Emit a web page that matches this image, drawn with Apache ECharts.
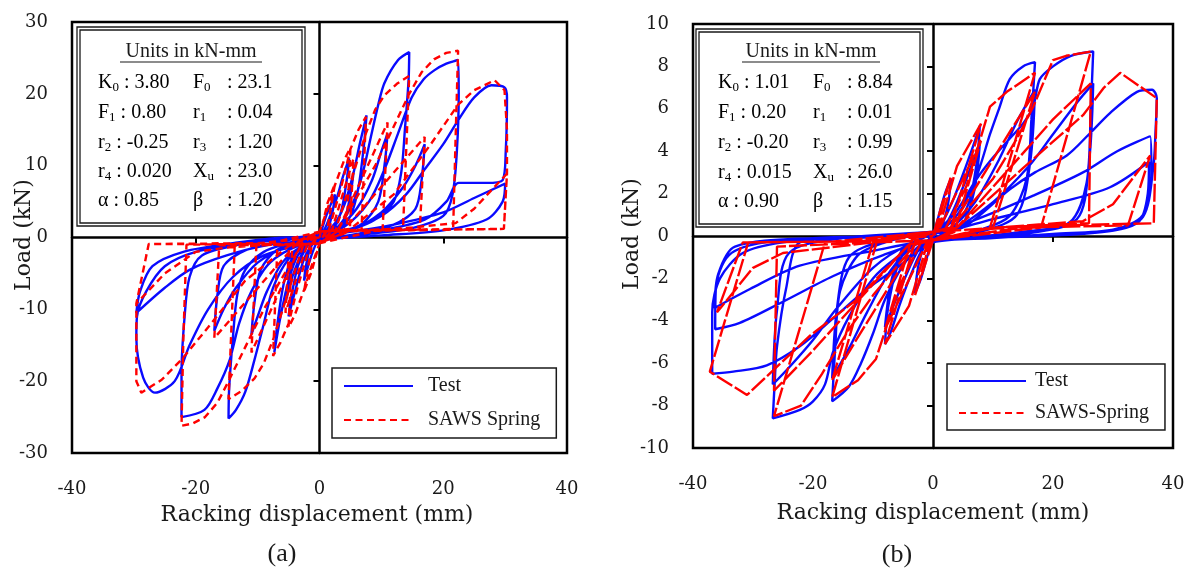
<!DOCTYPE html>
<html><head><meta charset="utf-8">
<script src="https://cdn.jsdelivr.net/npm/echarts@6/dist/echarts.min.js"></script>
<style>html,body{margin:0;padding:0;background:#fff}#c{width:1189px;height:569px}</style>
</head><body><div id="c"></div>
<script>
// ---------- axis ranges / ticks ----------
const xRange = { min: -40, max: 40, interval: 20 };
const yRangeA = { min: -30, max: 30, interval: 10 };
const yRangeB = { min: -10, max: 10, interval: 2 };

// ---------- chart (a): Test (displacement mm, load kN) ----------
const testA = [
 [0,0],[1,2.8],[2,5],[2.5,6],[2.2,4],[1.5,1.5],[0.5,0.2],[-0.5,-0.8],[-1.5,-3],[-2.5,-6],[-2.2,-4],[-1.5,-1.5],[-0.5,-0.2],
 [0.5,0.6],[1.5,2.5],[2.8,5.5],[3.8,8.5],[4.8,11],[4.4,8],[3.6,4],[2.5,1.5],[1,0.3],[-1,-0.8],[-2.5,-3],[-3.8,-7],[-5,-11],[-4.5,-8],[-3.5,-4],[-2.2,-1.5],[-0.8,-0.3],
 [0.5,0.4],[2.5,2],[4,4.5],[5.5,9],[6.5,13],[7.6,17],[7.2,13],[6.3,7],[5,3],[3,1],[0.5,0],[-1.5,-0.8],[-3.5,-2.5],[-5,-6],[-6.3,-11],[-7.3,-16],[-6.8,-12],[-5.8,-6.5],[-4.5,-3],[-2.5,-1],[-0.3,0],
 [2,1.2],[4,4.5],[5.5,9],[5,6],[4,2.5],[2,0.6],[0,-0.3],[-2,-1.2],[-4,-4.5],[-5.5,-9],[-5,-6],[-4,-2.5],[-2,-0.6],[0,0.3],
 [3,1.5],[5.5,5],[7,9],[8.3,14],[9.5,18.5],[10.5,21.5],[12.7,24.7],[14.5,25.8],[14.4,22],[13.8,15],[13.2,9],[12,5],[9,2.5],[5,1],[1,0],[-2,-1],[-5,-3],[-7.5,-7],[-9,-12],[-10.5,-17],[-12,-21.5],[-13.5,-24],[-14.7,-25.2],[-14.6,-21],[-14,-14],[-13.3,-8],[-12,-4.5],[-9,-2],[-5,-0.8],[-1,0.2],
 [3,1.5],[6,4],[8.5,8],[10,12],[11,14.5],[10.5,10],[9.5,5],[7,2],[3,0.5],[0,-0.3],[-3,-1.3],[-6,-3.5],[-8.5,-7.5],[-10,-11],[-11,-13.5],[-10.5,-9],[-9.5,-4.5],[-7,-1.8],[-3,-0.5],[0,0.3],
 [4,1.5],[8,5],[10.6,9.7],[12.7,14.5],[14.9,19.5],[16.8,22],[18.6,23.3],[20.5,24.2],[22.4,24.7],[22.5,20],[22.2,12],[21.5,6],[20,3],[15,1.3],[8,0.5],[2,-0.2],[-3,-1],[-8,-3.5],[-11,-7.5],[-13,-12],[-14.5,-17],[-16.5,-21],[-18.6,-24],[-22.3,-25],[-22.3,-19],[-21.8,-11],[-21,-5.5],[-19,-2.5],[-13,-1],[-6,-0.3],[0,0.2],
 [5,1],[10,3.5],[13.5,7],[15.5,10],[17,13],[16.5,8],[15.5,4],[12,1.8],[6,0.5],[0,-0.3],[-5,-1.2],[-10,-3.5],[-13.5,-7],[-15.5,-10],[-17,-13],[-16.5,-8],[-15.5,-4],[-12,-1.8],[-6,-0.5],[0,0.3],
 [5,1.2],[10,3],[14,6],[17,9.5],[20,13],[22.4,16.3],[25,19.5],[27.8,21.2],[29.9,20.9],[30.3,19.5],[30.1,12],[29.6,8],[27,7.6],[22.5,7.6],[20.5,5],[17,2.5],[10,1],[3,0],[-3,-1],[-9,-2.5],[-14,-5.5],[-18,-10],[-21,-15],[-23.4,-20],[-26.6,-21.6],[-28.5,-19.5],[-29.6,-14],[-29.5,-11],[-28,-7.5],[-25,-4],[-20,-2],[-12,-0.8],[-4,0],
 [5,0.8],[12,1.8],[20,3.5],[25,5.5],[30,7.5],[29.6,5],[27,2.5],[20,1],[10,0.3],[0,-0.3],[-8,-1],[-15,-2.5],[-21,-4.5],[-25,-7],[-29.6,-10.5],[-29,-7.5],[-27,-4],[-22,-2],[-14,-0.8],[-5,0],[0,0]
];

// ---------- chart (a): SAWS Spring model ----------
const sawsA = [
 [0,0],[1.3,4.8],[2.5,7.5],[1.2,0.9],[0,-0.8],[-1.3,-4.8],[-2.5,-7.5],[-1.2,-0.9],[0,0.8],
 [1.5,4.5],[2.5,7.3],[4,10.8],[5,12.5],[4.4,1],[1,0.9],[0,-0.8],[-1.5,-4.5],[-2.5,-7.3],[-4,-10.8],[-5,-12.5],[-4.4,-1],[-1,-0.9],[0,0.8],
 [1.5,1],[3.5,7],[5,12.3],[6.3,15],[7.5,16.8],[6.8,1.1],[2,0.9],[0,-0.8],[-1.5,-1],[-3.5,-6.8],[-5,-12],[-6.3,-14.6],[-7.5,-16.5],[-6.8,-1.1],[-2,-0.9],[0,0.8],
 [2,1],[5.5,11],[4.9,1],[0,-0.8],[-2,-1],[-5.5,-10.5],[-4.9,-1],[0,0.8],
 [2.6,1],[7.5,14.5],[9,17.8],[10.5,19.8],[12.5,21.4],[14.5,22.5],[13.5,1.2],[4,1],[0,-0.8],[-2.6,-1],[-7.5,-14.2],[-9,-17.5],[-10.5,-19.6],[-12.5,-21.3],[-14.7,-22.5],[-13.7,-1.1],[-4,-0.9],[0,0.8],
 [3,1],[11,16],[10.2,1.1],[3,0.9],[0,-0.8],[-3,-1],[-11,-16],[-10.2,-1.1],[-3,-0.9],[0,0.8],
 [3,1.1],[9,10],[14.5,20],[16.5,23],[18.5,24.8],[20.5,25.7],[22.4,26],[22,14],[21.6,1.2],[12,1],[3,0.9],[0,-0.8],[-3,-1.1],[-9,-10],[-14.7,-20],[-16.5,-23],[-18.5,-25],[-20.5,-25.9],[-22.3,-26.2],[-22,-14],[-21.5,-1],[-12,-0.9],[-3,-0.9],[0,0.8],
 [4,1.1],[17,14],[16.2,1.1],[5,1],[0,-0.8],[-4,-1.1],[-17,-14],[-16.2,-1.1],[-5,-1],[0,0.8],
 [5,1.2],[12,6],[18,13],[22.4,18.5],[25,20.5],[28.3,21.9],[29.9,20.5],[30.3,15],[30.3,8.9],[29.8,1.2],[15,1],[5,0.9],[0,-0.8],[-5,-1.2],[-12,-6],[-18,-12.5],[-22.3,-17],[-25.5,-19.8],[-28.8,-21.6],[-29.6,-20],[-29.6,-9.2],[-27.6,-0.9],[-19.5,-0.9],[-8,-0.8],[0,0.8],
 [8,1],[15,1.4],[22,2],[25,4],[30.3,8.9],[29.8,1.2],[9.5,1],[0,-0.8],[-8,-1],[-15,-1.4],[-20,-2],[-25,-5],[-29.6,-9.2],[-27.6,-0.9],[-10,-0.8],[0,0]
];

// ---------- chart (b): Test ----------
const testB = [
 [0,0],[1,1],[2,2],[3,2.7],[2.5,1.5],[1.5,0.5],[0,-0.1],[-1,-1],[-2,-2],[-3,-2.7],[-2.5,-1.5],[-1.5,-0.5],[0,0.1],
 [1.5,0.6],[3.5,1.8],[5.5,3.3],[7,4.5],[7.8,5.2],[7.3,3.5],[6,1.6],[4,0.6],[1,0],[-1.5,-0.5],[-3.5,-1.7],[-5.5,-3.2],[-7,-4.5],[-8,-5.1],[-7.5,-3.4],[-6,-1.5],[-4,-0.5],[-1,0],
 [2,0.5],[5,2.3],[7.8,4.4],[7,2.3],[5,0.6],[1,-0.1],[-2,-0.5],[-5,-2.2],[-8,-4.3],[-7,-2.2],[-5,-0.6],[-1,0],
 [2,0.4],[5,1.4],[7.5,3],[9.5,4.8],[11,6],[12.8,7.4],[15,8],[17,8.2],[16.4,5.5],[15.6,2.7],[12.8,0.95],[8,0.3],[2,-0.1],[-2,-0.4],[-5,-1.4],[-8,-3],[-10,-4.6],[-12,-6],[-14,-7.1],[-16.8,-7.8],[-16.3,-5.3],[-15.5,-2.6],[-12.5,-0.9],[-8,-0.3],[-2,0.1],
 [3,0.4],[7,1.6],[11,3.6],[14,5.4],[17,6.9],[16.2,3.5],[14,1],[8,0.2],[0,-0.2],[-3,-0.4],[-7,-1.6],[-11,-3.6],[-14,-5.3],[-16.8,-6.7],[-16,-3.4],[-14,-1],[-8,-0.2],[0,0.2],
 [1.7,0.5],[4,1.2],[7.3,2.7],[10,3.7],[12.8,4.6],[15,5.3],[16.7,6.1],[17.8,7.4],[20,8],[23,8.5],[26.7,8.7],[26.3,6],[25.6,2.5],[22.8,0.65],[15,0.2],[5,-0.1],[-2,-0.3],[-6,-1],[-10,-2],[-14,-3.8],[-16.7,-5.5],[-18,-7],[-20,-7.8],[-22.2,-8.2],[-26.7,-8.6],[-26.4,-7],[-26,-5.2],[-24.5,-2.5],[-22.2,-0.3],[-15,-0.1],[-5,0.1],
 [3,0.3],[10,1.6],[16,3.3],[20,4.8],[24,6.3],[26.7,7.2],[26,3.5],[24,0.8],[15,0.1],[0,-0.2],[-4,-0.4],[-10,-1.5],[-16,-3.4],[-20,-4.9],[-24,-6.2],[-26.7,-7],[-26,-3.5],[-24,-0.8],[-15,-0.1],[0,0.2],
 [5,0.4],[12.8,2.2],[17,3],[22.3,3.8],[26,4.8],[29.5,5.8],[34,6.8],[36.5,6.9],[37.3,6.5],[37.1,5],[36.7,3.2],[35,0.9],[30,0.3],[20,0.1],[10,-0.1],[0,-0.3],[-5.5,-1.4],[-11,-2.5],[-16.7,-3.9],[-22.2,-5.2],[-27.7,-6.1],[-33.3,-6.4],[-36.8,-6.5],[-36.8,-3.6],[-35.5,-2],[-31.7,-0.8],[-25,-0.3],[-15,-0.1],[0,0.1],
 [8.3,0.9],[16.7,1.9],[25,3],[30.7,4],[36.2,4.7],[36.4,3],[35,1],[30,0.3],[15,0],[0,-0.2],[-8.3,-0.9],[-16.7,-1.9],[-25,-3.1],[-32.2,-4.1],[-36.3,-4.4],[-36.2,-2.5],[-34,-0.9],[-28,-0.3],[-15,-0.1],[0,0.1],
 [10,0.8],[20,1.5],[29.5,2.3],[36,3.5],[35.8,2],[34,0.6],[25,0.1],[0,-0.2],[-10,-0.7],[-22.2,-1.4],[-30.5,-2.5],[-36.4,-3.4],[-35.8,-1.8],[-33,-0.5],[-20,-0.1],[0,0]
];

// ---------- chart (b): SAWS-Spring model ----------
const sawsB = [
 [0,0],[1.5,1.5],[3,2.8],[0.3,0.1],[0,-0.2],[-1.5,-1.5],[-3,-2.8],[-0.3,-0.1],[0,0.2],
 [1,0.4],[4,3.3],[8,5.3],[2.8,0.2],[0,-0.2],[-1,-0.4],[-4,-3.3],[-8,-5.1],[-2.9,-0.2],[0,0.2],
 [1,0.3],[8,4.5],[3.6,0.2],[0,-0.2],[-1,-0.3],[-8,-4.4],[-3.6,-0.2],[0,0.2],
 [2,0.3],[5.5,2.3],[9.5,6.1],[12.3,6.8],[17,7.7],[9.5,0.4],[0,-0.2],[-2,-0.3],[-5.5,-2.3],[-9.5,-5.8],[-12.5,-6.8],[-16.8,-7.6],[-9.4,-0.3],[0,0.2],
 [3,0.4],[13,5],[17,6.8],[10,0.4],[0,-0.2],[-3,-0.4],[-13,-5],[-16.8,-6.8],[-10,-0.3],[0,0.2],
 [3,0.4],[10,2.7],[14,4.6],[16.7,6.1],[20,8.3],[22.2,8.5],[26.3,8.7],[18,0.4],[0,-0.2],[-3,-0.4],[-10,-2.8],[-14,-4.4],[-18.5,-6.5],[-22,-8],[-26.5,-8.5],[-18,-0.3],[0,0.2],
 [4,0.4],[20,5.5],[26.3,7.2],[26,0.6],[10,0.4],[0,-0.2],[-4,-0.4],[-20,-5.4],[-26.5,-7.3],[-26,-0.5],[-10,-0.3],[0,0.2],
 [4,0.4],[15,3.2],[25,5.7],[28.5,7],[31.2,7.7],[37.3,6.5],[36.8,0.6],[20,0.5],[8.8,0.33],[0,-0.2],[-4,-0.4],[-12.7,-3],[-20.5,-4.7],[-31,-7.5],[-37.2,-6.4],[-30.8,-0.3],[-12,-0.25],[0,0.2],
 [8.8,0.35],[25,0.7],[30,1.5],[36.2,3.8],[32.5,0.5],[15,0.4],[0,-0.2],[-10,-0.3],[-25,-0.8],[-30,-1.5],[-36,-3.6],[-31.7,-0.3],[-12,-0.25],[0,0]
];

// ---------- inset parameter tables ----------
const paramsA = [
 ['K','0','3.80','F','0','23.1'],
 ['F','1','0.80','r','1','0.04'],
 ['r','2','-0.25','r','3','1.20'],
 ['r','4','0.020','X','u','23.0'],
 ['α','','0.85','β','','1.20']
];
const paramsB = [
 ['K','0','1.01','F','0','8.84'],
 ['F','1','0.20','r','1','0.01'],
 ['r','2','-0.20','r','3','0.99'],
 ['r','4','0.015','X','u','26.0'],
 ['α','','0.90','β','','1.15']
];
const legendNamesA = ['Test', 'SAWS Spring'];
const legendNamesB = ['Test', 'SAWS-Spring'];

// ---------- build ----------
const BLUE = '#0a0aff', RED = '#ff0000', INK = '#1a1a1a';
const tickFont = { fontFamily: 'DejaVu Serif', fontSize: 18, color: INK };

function axesFor(gi, yr) {
  const xs = [
    { type: 'value', gridIndex: gi, position: 'bottom', min: xRange.min, max: xRange.max, interval: xRange.interval,
      axisLine: { show: false, onZero: false }, axisTick: { show: false }, splitLine: { show: false },
      axisLabel: Object.assign({ margin: 27 }, tickFont) },
    { type: 'value', gridIndex: gi, position: 'top', min: xRange.min, max: xRange.max, interval: xRange.interval,
      axisLine: { show: true, onZero: true, lineStyle: { color: '#000', width: 2.5 } },
      axisTick: { show: true, inside: true, length: 6, lineStyle: { color: '#000', width: 2 } },
      axisLabel: { show: false }, splitLine: { show: false } }
  ];
  const ys = [
    { type: 'value', gridIndex: gi, position: 'left', min: yr.min, max: yr.max, interval: yr.interval,
      axisLine: { show: false, onZero: false }, axisTick: { show: false }, splitLine: { show: false },
      axisLabel: Object.assign({ margin: 24 }, tickFont) },
    { type: 'value', gridIndex: gi, position: 'right', min: yr.min, max: yr.max, interval: yr.interval,
      axisLine: { show: true, onZero: true, lineStyle: { color: '#000', width: 2.5 } },
      axisTick: { show: true, inside: true, length: 6, lineStyle: { color: '#000', width: 2 } },
      axisLabel: { show: false }, splitLine: { show: false } }
  ];
  return { xs, ys };
}
const axA = axesFor(0, yRangeA), axB = axesFor(1, yRangeB);

const rich = {
  m: { fontFamily: 'Liberation Serif', fontSize: 20, lineHeight: 22, color: INK },
  s: { fontFamily: 'Liberation Serif', fontSize: 13, lineHeight: 11, verticalAlign: 'bottom', color: INK }
};
function insetGraphics(params, box, titleX, cols, rows, ul) {
  const g = [];
  g.push({ type: 'rect', shape: { x: box[0], y: box[1], width: box[2], height: box[3] }, style: { fill: '#fff', stroke: INK, lineWidth: 1.3 }, z: 10 });
  g.push({ type: 'rect', shape: { x: box[0] + 3, y: box[1] + 3, width: box[2] - 6, height: box[3] - 6 }, style: { fill: 'none', stroke: INK, lineWidth: 1.3 }, z: 10 });
  g.push({ type: 'text', x: titleX, y: 52, z: 11, style: { text: 'Units in kN-mm', fontFamily: 'Liberation Serif', fontSize: 20, fill: INK, align: 'center', verticalAlign: 'middle' } });
  g.push({ type: 'line', z: 11, shape: { x1: ul[0], y1: 62, x2: ul[1], y2: 62 }, style: { stroke: INK, lineWidth: 1.2 } });
  params.forEach((p, i) => {
    const y = rows[i];
    g.push({ type: 'text', x: cols[0], y: y, z: 11, style: { text: '{m|' + p[0] + '}' + (p[1] ? '{s|' + p[1] + '}' : '') + '{m| : ' + p[2] + '}', rich: rich, align: 'left', verticalAlign: 'middle' } });
    g.push({ type: 'text', x: cols[1], y: y, z: 11, style: { text: '{m|' + p[3] + '}' + (p[4] ? '{s|' + p[4] + '}' : ''), rich: rich, align: 'left', verticalAlign: 'middle' } });
    g.push({ type: 'text', x: cols[2], y: y, z: 11, style: { text: '{m|: ' + p[5] + '}', rich: rich, align: 'left', verticalAlign: 'middle' } });
  });
  return g;
}
function titleText(txt, x, y, rot, size, fam) {
  return { type: 'text', x: x, y: y, rotation: rot, z: 11,
    style: { text: txt, fontFamily: fam, fontSize: size, fill: INK, align: 'center', verticalAlign: 'middle' } };
}

const graphics = []
  .concat(insetGraphics(paramsA, [77, 27, 228, 199], 191, [98, 193, 227], [83, 113, 143, 172, 201], [120, 262]))
  .concat(insetGraphics(paramsB, [696, 29, 227, 198], 811, [718, 813, 847], [83, 113, 143, 173, 202], [742, 880]))
  .concat([
    titleText('Racking displacement (mm)', 317, 515, 0, 22, 'DejaVu Serif'),
    titleText('Racking displacement (mm)', 933, 513, 0, 22, 'DejaVu Serif'),
    titleText('Load (kN)', 24, 235, Math.PI / 2, 22, 'DejaVu Serif'),
    titleText('Load (kN)', 632, 234, Math.PI / 2, 22, 'DejaVu Serif'),
    titleText('(a)', 282, 554, 0, 26, 'Liberation Serif'),
    titleText('(b)', 897, 555, 0, 26, 'Liberation Serif')
  ]);

const dashA = [7, 4.5], dashB = [18, 3];
const legendBase = {
  orient: 'vertical', itemWidth: 69, itemHeight: 14, backgroundColor: '#fff',
  borderColor: INK, borderWidth: 1.5, borderRadius: 0, selectedMode: false,
  itemStyle: { opacity: 0, borderWidth: 0 },
  textStyle: { fontFamily: 'Liberation Serif', fontSize: 20, color: INK, padding: [0, 0, 0, 10] }
};

const option = {
  animation: false,
  backgroundColor: '#fff',
  grid: [
    { left: 72, top: 22, width: 495, height: 431, show: true, borderColor: '#000', borderWidth: 2.5, backgroundColor: 'transparent' },
    { left: 693, top: 24, width: 480, height: 424, show: true, borderColor: '#000', borderWidth: 2.5, backgroundColor: 'transparent' }
  ],
  xAxis: axA.xs.concat(axB.xs),
  yAxis: axA.ys.concat(axB.ys),
  legend: [
    Object.assign({}, legendBase, { left: 332, top: 368, padding: [8, 16, 8, 11], itemGap: 14,
      data: [{ name: legendNamesA[0] }, { name: legendNamesA[1] }] }),
    Object.assign({}, legendBase, { left: 947, top: 364, padding: [7, 16, 7, 11], itemWidth: 67, itemGap: 12,
      textStyle: Object.assign({}, legendBase.textStyle, { padding: [0, 0, 0, 4] }),
      data: [{ name: legendNamesB[0] }, { name: legendNamesB[1], lineStyle: { type: dashA } }] })
  ],
  graphic: graphics,
  series: [
    { name: legendNamesA[0], type: 'line', xAxisIndex: 0, yAxisIndex: 0, data: testA, showSymbol: false, symbol: 'none', smooth: 0.3,
      lineStyle: { color: BLUE, width: 2.4 }, itemStyle: { color: BLUE }, z: 3 },
    { name: legendNamesA[1], type: 'line', xAxisIndex: 0, yAxisIndex: 0, data: sawsA, showSymbol: false, symbol: 'none',
      lineStyle: { color: RED, width: 2.4, type: dashA }, itemStyle: { color: RED }, z: 4 },
    { name: legendNamesB[0], type: 'line', xAxisIndex: 2, yAxisIndex: 2, data: testB, showSymbol: false, symbol: 'none', smooth: 0.3,
      lineStyle: { color: BLUE, width: 2.4 }, itemStyle: { color: BLUE }, z: 3 },
    { name: legendNamesB[1], type: 'line', xAxisIndex: 2, yAxisIndex: 2, data: sawsB, showSymbol: false, symbol: 'none',
      lineStyle: { color: RED, width: 2.4, type: dashB }, itemStyle: { color: RED }, z: 4 }
  ]
};

const chart = echarts.init(document.getElementById('c'), null, { renderer: 'canvas' });
chart.setOption(option);
</script>
</body></html>
